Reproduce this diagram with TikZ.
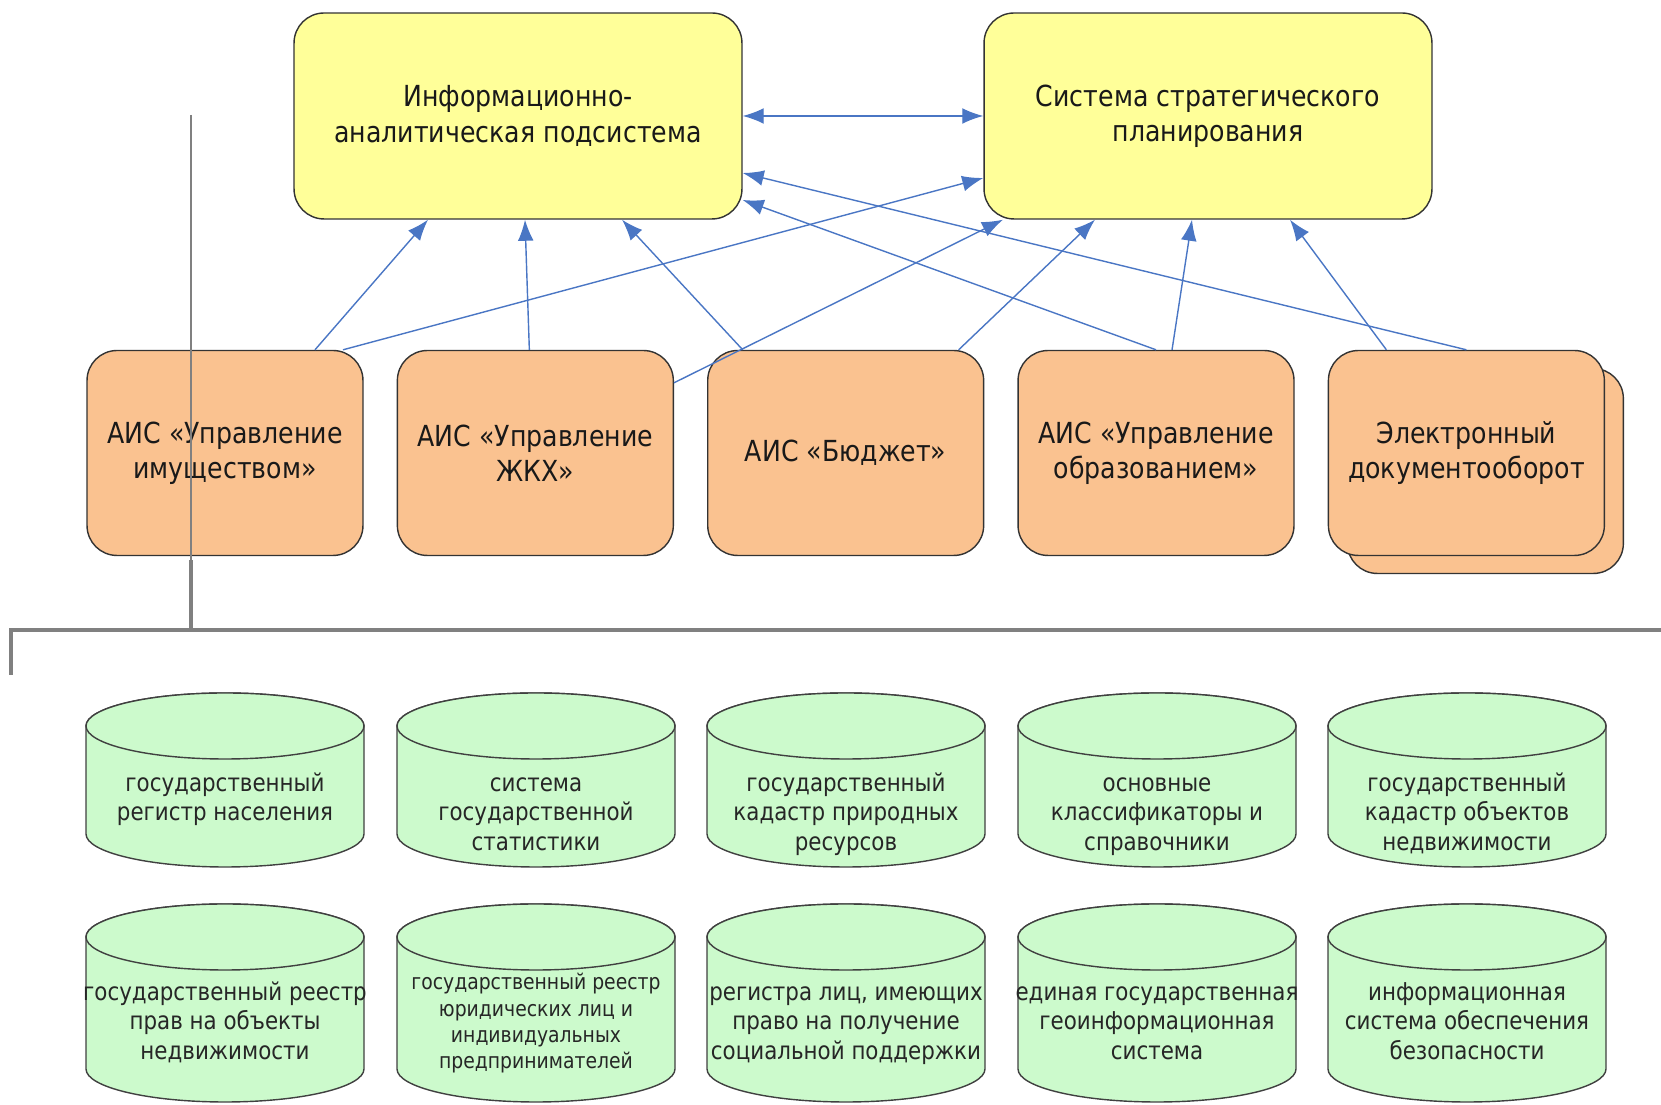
\documentclass[tikz,border=0pt]{standalone}
\usepackage{fontspec}
\setmainfont{DejaVu Sans}[FakeStretch=0.87]
\usetikzlibrary{positioning}
\usetikzlibrary{arrows.meta,shadows}

\definecolor{sysyellow}{RGB}{255,255,153}
\definecolor{aisorange}{RGB}{250,194,144}
\definecolor{dbgreen}{RGB}{204,250,204}
\definecolor{linkblue}{RGB}{74,118,196}
\definecolor{bracketgray}{RGB}{128,128,128}

\tikzset{
  linktip/.tip={Latex[length=12pt,width=9pt]},
  sysbox/.style={draw=black!80, fill=sysyellow, rounded corners=0.6cm, line width=0.8pt,
    minimum width=8.96cm, minimum height=4.12cm, align=center, text=black!90,
    font=\fontsize{16.5}{20}\selectfont},
  aisbox/.style={draw=black!80, fill=aisorange, rounded corners=0.6cm, line width=0.8pt,
    minimum width=5.52cm, minimum height=4.1cm, align=center, text=black!90,
    font=\fontsize{16.5}{20}\selectfont},
  dbcyl/.style={draw=black!75, fill=dbgreen, line width=0.8pt},
  dbtext/.style={align=center, text=black!85, anchor=north,
    font=\fontsize{14}{16.8}\selectfont},
  link/.style={draw=linkblue, line width=0.8pt, -linktip},
  bracket/.style={draw=bracketgray, line width=2.2pt},
  thinbracket/.style={draw=bracketgray, line width=0.75pt},
}

\begin{document}
\begin{tikzpicture}[x=0.02cm,y=0.02cm]
\useasboundingbox (0,0) rectangle (1661,1105);

% top systems
\node[sysbox] (ia) at (518,989) {Информационно-\\аналитическая подсистема};
\node[sysbox] (ssp) at (1208,989) {Система стратегического\\планирования};

% AIS row
\node[aisbox] (o1) at (225,652) {АИС «Управление\\имуществом»};
\node[aisbox, right=0.66cm of o1] (o2) {АИС «Управление\\ЖКХ»};
\node[aisbox, right=0.66cm of o2] (o3) {АИС «Бюджет»};
\node[aisbox, right=0.66cm of o3] (o4) {АИС «Управление\\образованием»};
\node[aisbox, right=0.66cm of o4,
  copy shadow={shadow xshift=0.38cm,shadow yshift=-0.36cm}] (o5) {Электронный\\документооборот};

% databases, first row
\foreach \n/\x/\txt in {1/225/{государственный\\регистр населения},
    2/536/{система\\государственной\\статистики},
    3/846/{государственный\\кадастр природных\\ресурсов},
    4/1157/{основные\\классификаторы и\\справочники},
    5/1467/{государственный\\кадастр объектов\\недвижимости}}{
  \filldraw[dbcyl] (\x-139,379) -- (\x-139,271)
    arc[start angle=180,end angle=360,x radius=139,y radius=33]
    -- (\x+139,379) arc[start angle=0,end angle=180,x radius=139,y radius=33] -- cycle;
  \filldraw[dbcyl] (\x,379) ellipse[x radius=139,y radius=33];
  \node[dbtext] (db1\n) at (\x,341) {\rule{0pt}{12pt}\txt};
}

% databases, second row
\foreach \n/\x/\txt/\fs/\ls/\y/\h in {1/225/{государственный реестр\\прав на объекты\\недвижимости}/14/16.8/132/12,
    2/536/{государственный реестр\\юридических лиц и\\индивидуальных\\предпринимателей}/12.3/15/140/10.5,
    3/846/{регистра лиц, имеющих\\право на получение\\социальной поддержки}/14/16.8/132/12,
    4/1157/{единая государственная\\геоинформационная\\система}/14/16.8/132/12,
    5/1467/{информационная\\система обеспечения\\безопасности}/14/16.8/132/12}{
  \filldraw[dbcyl] (\x-139,168) -- (\x-139,36)
    arc[start angle=180,end angle=360,x radius=139,y radius=33]
    -- (\x+139,168) arc[start angle=0,end angle=180,x radius=139,y radius=33] -- cycle;
  \filldraw[dbcyl] (\x,168) ellipse[x radius=139,y radius=33];
  \node[dbtext, font=\fontsize{\fs}{\ls}\selectfont] (db2\n) at (\x,\y) {\rule{0pt}{\h pt}\txt};
}

% links
\draw[link, linktip-linktip] (ia.east) -- (ssp.west);
\draw[link] ([xshift=1.8cm]o1.north) -- ([xshift=-1.8cm]ia.south);
\draw[link] ([xshift=2.36cm]o1.north) -- ([yshift=-1.24cm]ssp.west);
\draw[link] ([xshift=-0.12cm]o2.north) -- ([xshift=0.14cm]ia.south);
\draw[link] ([yshift=-0.66cm]o2.north east) -- ([xshift=-4.1cm]ssp.south);
\draw[link] ([xshift=-2.06cm]o3.north) -- ([xshift=2.08cm]ia.south);
\draw[link] ([xshift=2.26cm]o3.north) -- ([xshift=-2.26cm]ssp.south);
\draw[link] ([xshift=0.32cm]o4.north) -- ([xshift=-0.32cm]ssp.south);
\draw[link] (o4.north) -- ([yshift=-1.68cm]ia.east);
\draw[link] ([xshift=-1.6cm]o5.north) -- ([xshift=1.64cm]ssp.south);
\draw[link] (o5.north) -- ([yshift=-1.14cm]ia.east);

% bracket to the databases
\coordinate (brtop) at (191,990);
\coordinate (brknee) at (191,545);
\coordinate (brmid) at (191,475);
\coordinate (brleft) at (11,475);
\coordinate (brend) at (11,430);
\coordinate (brright) at (1661,475);
\draw[thinbracket] (brtop) -- (brknee);
\draw[bracket] (brknee) -- (brmid);
\draw[bracket] (brend) -- (brleft) -- (brright);
\end{tikzpicture}
\end{document}
